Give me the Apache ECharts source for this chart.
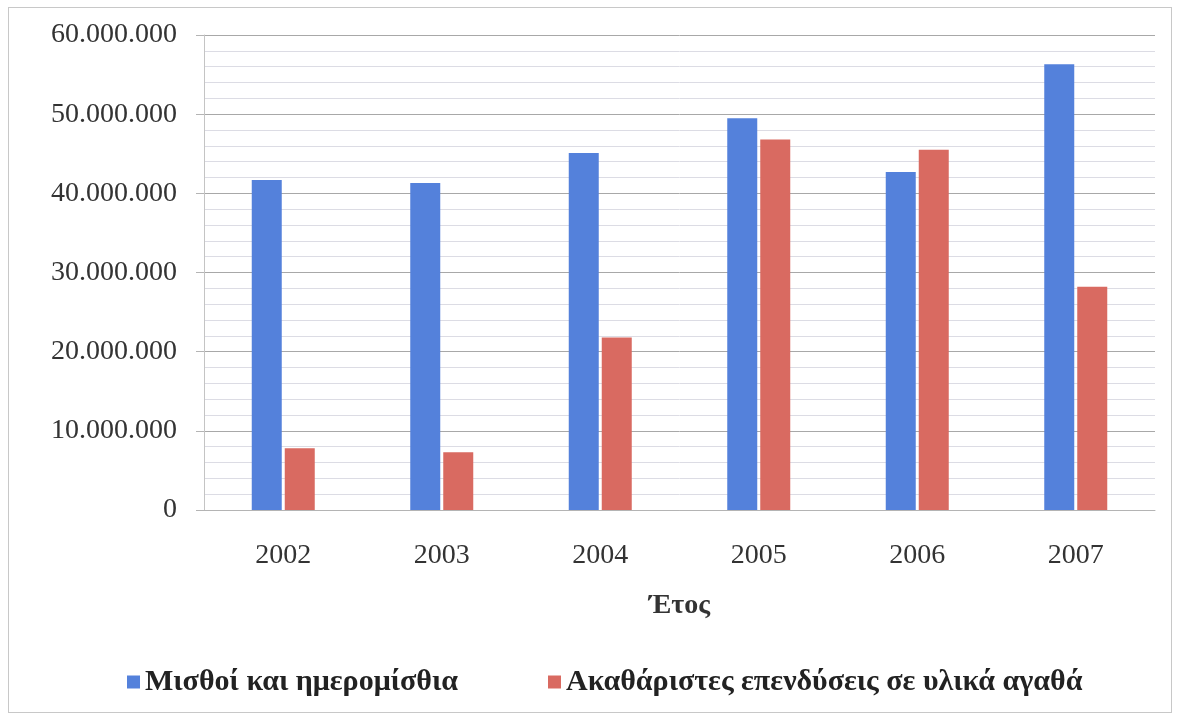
<!DOCTYPE html>
<html>
<head>
<meta charset="utf-8">
<script src="https://cdn.jsdelivr.net/npm/echarts@6/dist/echarts.min.js"></script>
<style>
  html, body { margin: 0; padding: 0; background: #fff; }
  #frame { position: absolute; left: 8px; top: 7px; width: 1162px; height: 704px; border: 1px solid #c8c8c8; }
  #main { width: 1179px; height: 722px; }
</style>
</head>
<body>
<div id="frame"></div>
<div id="main"></div>
<script>
// έτη και τιμές (διαβασμένες από το γράφημα)
var years = ["2002", "2003", "2004", "2005", "2006", "2007"];
var misthoi = [41700000, 41300000, 45100000, 49500000, 42700000, 56300000];
var ependyseis = [7800000, 7300000, 21800000, 46800000, 45500000, 28200000];
var seriesNames = ["Μισθοί και ημερομίσθια", "Ακαθάριστες επενδύσεις σε υλικά αγαθά"];

function fmt(v) {
  return String(v).replace(/\B(?=(\d{3})+(?!\d))/g, ".");
}

var myChart = echarts.init(document.getElementById("main"));
myChart.setOption({
  animation: false,
  textStyle: { fontFamily: "Liberation Serif" },
  grid: { left: 204, right: 24, top: 35, bottom: 212 },
  legend: {
    left: 122,
    top: 662,
    itemWidth: 13,
    itemHeight: 13,
    itemGap: 90,
    icon: "rect",
    textStyle: { fontSize: 30, fontWeight: "bold", color: "#222", fontFamily: "Liberation Serif" },
    data: seriesNames
  },
  xAxis: {
    type: "category",
    data: years,
    name: "Έτος",
    nameLocation: "middle",
    nameGap: 82,
    nameTextStyle: { fontSize: 28, fontWeight: "bold", color: "#333", fontFamily: "Liberation Serif" },
    axisTick: { show: false },
    axisLine: { lineStyle: { color: "#b4b4b4" } },
    axisLabel: { fontSize: 28, color: "#333", margin: 32 }
  },
  yAxis: {
    type: "value",
    min: 0,
    max: 60000000,
    interval: 10000000,
    axisLine: { show: true, lineStyle: { color: "#c4c4c4" } },
    axisTick: { show: true, length: 8, lineStyle: { color: "#b4b4b4" } },
    axisLabel: { fontSize: 28, color: "#333", margin: 27, formatter: fmt },
    splitLine: { lineStyle: { color: "#a8a8a8" } },
    minorTick: { show: false, splitNumber: 5 },
    minorSplitLine: { show: true, lineStyle: { color: "#dcdce4" } }
  },
  series: [
    {
      name: seriesNames[0],
      type: "bar",
      data: misthoi,
      barWidth: 30,
      barGap: "10%",
      itemStyle: { color: "#5481db" }
    },
    {
      name: seriesNames[1],
      type: "bar",
      data: ependyseis,
      barWidth: 30,
      itemStyle: { color: "#d96a61" }
    }
  ]
});
</script>
</body>
</html>
